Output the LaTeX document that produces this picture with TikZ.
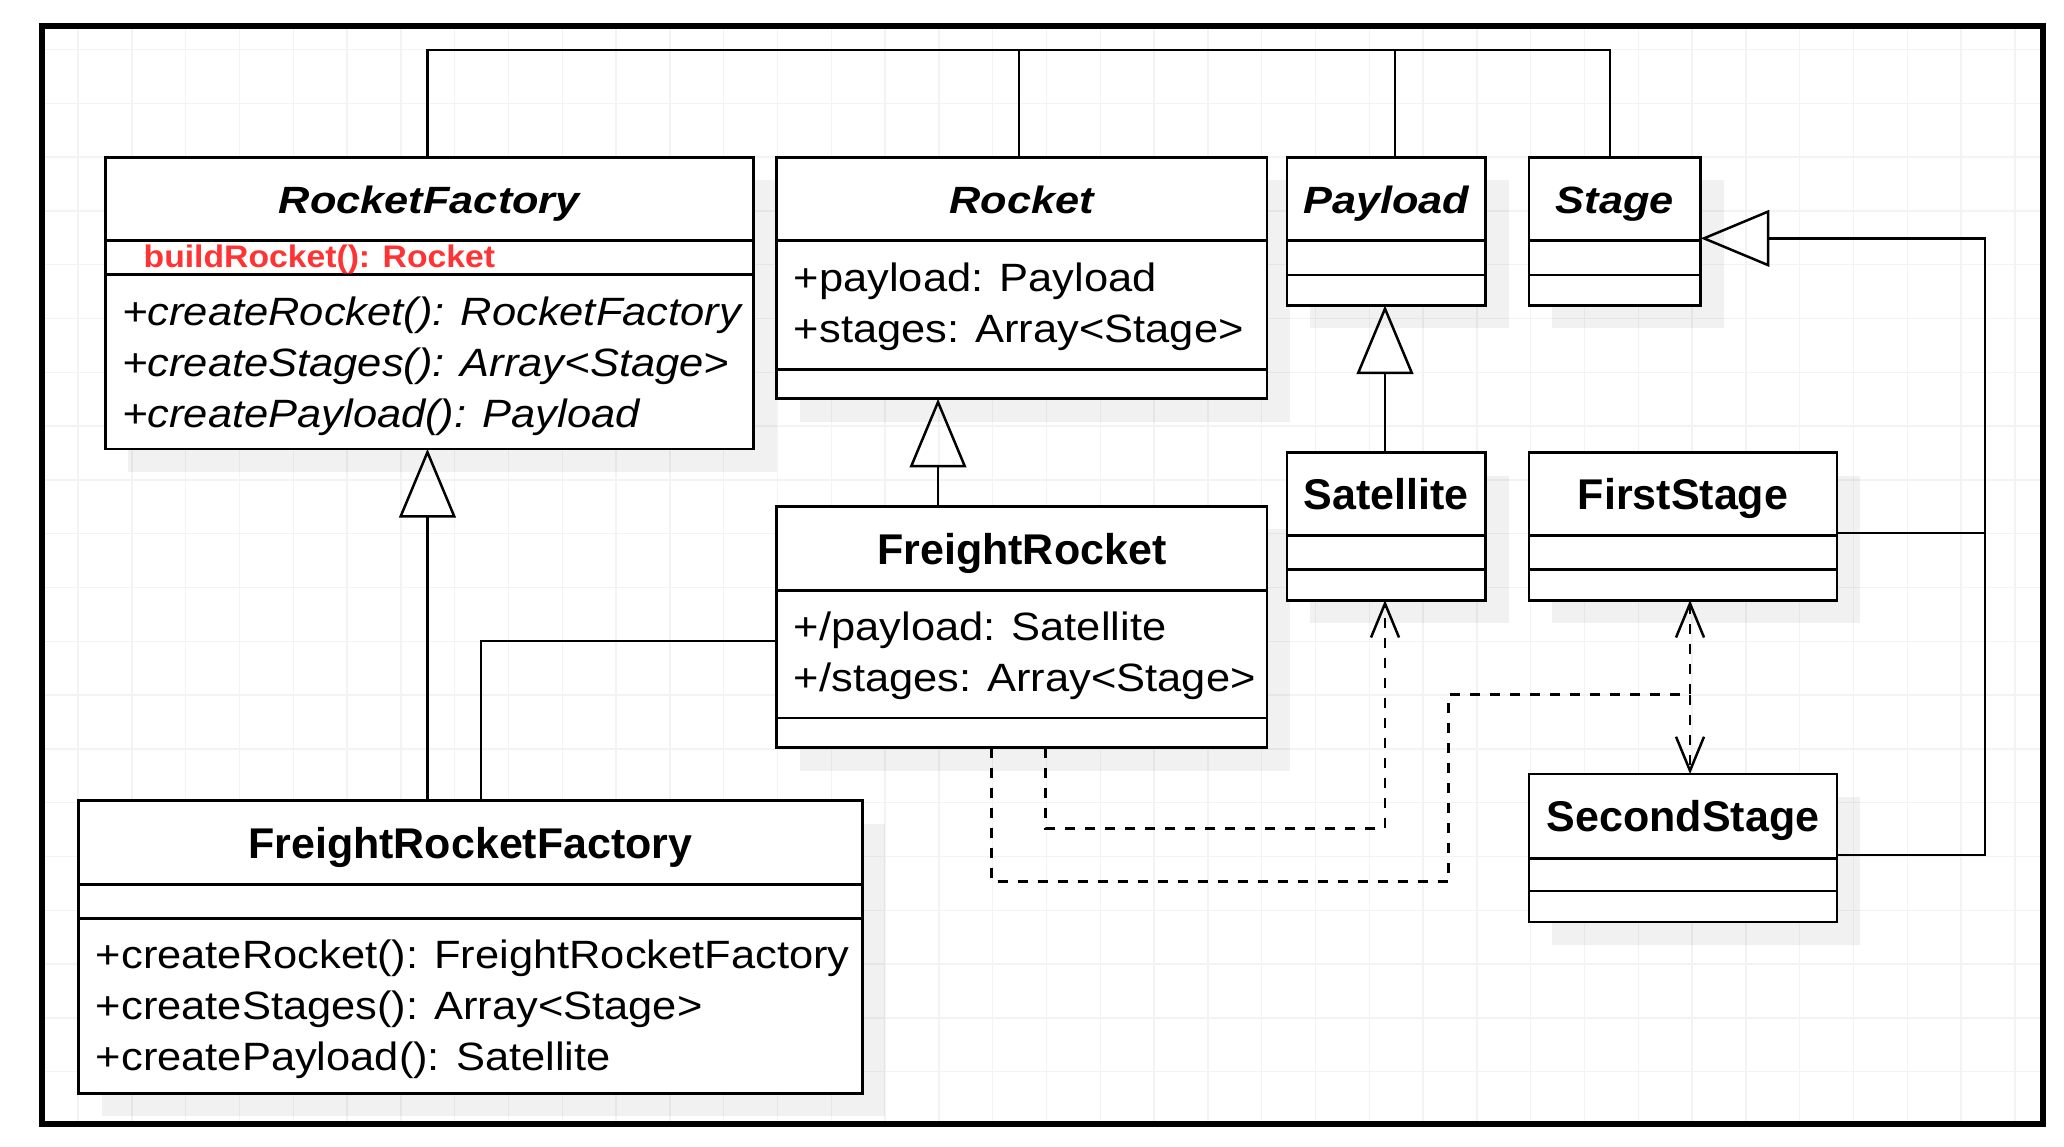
\documentclass[tikz,border=0pt]{standalone}
\usepackage{fontspec}
\setmainfont{Liberation Sans}
\newfontfamily\bodyfont[FakeStretch=1.1]{Liberation Sans}
\newfontfamily\titleitfont[FakeStretch=1.14]{Liberation Sans}
\newfontfamily\redfont[FakeStretch=1.08]{Liberation Sans}
\usetikzlibrary{arrows.meta}
\definecolor{umlred}{HTML}{FF3333}
\definecolor{gridc}{HTML}{F3F3F3}
\newcommand\UMLshadow[4]{\fill[shadowfill] ({#1+23},{#2+23}) rectangle ({#3+23},{#4+23});}
\newcommand\UMLclass[7]{%
  \node[classbox, minimum width={(#4-#2)*0.5pt}, minimum height={(#5-#3)*0.5pt}] (#1) at ({(#2+#4)/2},{(#3+#5)/2}) {};
  \draw[boxline] (#2,#6) -- (#4,#6) (#2,#7) -- (#4,#7);
}
\tikzset{
  gridline/.style={draw=gridc, line width=0.7pt},
  shadowfill/.style={fill=black, opacity=0.055},
  classbox/.style={draw, fill=white, line width=1.35pt, inner sep=0pt, outer sep=0pt, rectangle},
  boxline/.style={line width=1.35pt},
  titleb/.style={font=\fontsize{21.5pt}{25pt}\selectfont\bfseries, anchor=base, inner sep=0pt},
  titleit/.style={font=\titleitfont\fontsize{19pt}{22pt}\selectfont\bfseries\itshape, anchor=base, inner sep=0pt},
  member/.style={font=\bodyfont\fontsize{19.75pt}{25pt}\selectfont, anchor=base west, inner sep=0pt},
  memberit/.style={font=\bodyfont\fontsize{19.75pt}{25pt}\selectfont\itshape, anchor=base west, inner sep=0pt},
  redtext/.style={font=\redfont\fontsize{15.6pt}{18pt}\selectfont\bfseries, text=umlred, anchor=base west, inner sep=0pt},
  conn/.style={draw, line width=1.25pt},
  gen/.style={conn, -{Triangle[open, length=34.3pt, width=28.3pt]}},
  dep/.style={conn, dash pattern=on 5pt off 5pt, -{Straight Barb[length=17pt, width=14pt]}},
  frame/.style={draw, line width=2.9pt}
}
\begin{document}
\begin{tikzpicture}[x=0.5pt, y=-0.5pt]
\useasboundingbox (0,0) rectangle (2064,1146);
\fill[white] (0,0) rectangle (2064,1146);
% grid
\foreach \k in {1,...,37} \draw[gridline] ({24.3+53.8*\k},25.7) -- ({24.3+53.8*\k},1124);
\foreach \k in {0,...,19} \draw[gridline] (41.6,{49.4+53.8*\k}) -- (2043,{49.4+53.8*\k});
% shadows
\UMLshadow{105.3}{157.3}{753.6}{448.9}
\UMLshadow{776.6}{157.3}{1267}{398.8}
\UMLshadow{1287}{157.3}{1485.6}{305.4}
\UMLshadow{1529}{157.3}{1700.7}{305.4}
\UMLshadow{776.6}{506.3}{1267}{747.7}
\UMLshadow{1287}{452.5}{1485.6}{600.2}
\UMLshadow{1529}{452.5}{1837}{600.2}
\UMLshadow{1529}{774}{1837}{922.1}
\UMLshadow{78.6}{800.7}{862.2}{1093.2}
% classes
\UMLclass{rf}{105.3}{157.3}{753.6}{448.9}{240.2}{274.4}
\UMLclass{rocket}{776.6}{157.3}{1267}{398.8}{240.2}{369.2}
\UMLclass{payload}{1287}{157.3}{1485.6}{305.4}{240.6}{275}
\UMLclass{stage}{1529}{157.3}{1700.7}{305.4}{240.6}{275}
\UMLclass{fr}{776.6}{506.3}{1267}{747.7}{590.6}{718}
\UMLclass{sat}{1287}{452.5}{1485.6}{600.2}{535.7}{569.2}
\UMLclass{fs}{1529}{452.5}{1837}{600.2}{535.7}{569.2}
\UMLclass{ss}{1529}{774}{1837}{922.1}{858.2}{891.1}
\UMLclass{frf}{78.6}{800.7}{862.2}{1093.2}{884.2}{918.8}
% titles
\node[titleit] (rfT) at (429.45,213) {RocketFactory};
\node[titleit] (rocketT) at (1021.8,213) {Rocket};
\node[titleit] (payloadT) at (1386.3,213.5) {Payload};
\node[titleit] (stageT) at (1614.85,213.5) {Stage};
\node[titleb] (frT) at (1021.8,564) {FreightRocket};
\node[titleb] (satT) at (1386.3,509.8) {Satellite};
\node[titleb] (fsT) at (1683,509.8) {FirstStage};
\node[titleb] (ssT) at (1683,831.8) {SecondStage};
\node[titleb] (frfT) at (470.4,858) {FreightRocketFactory};
% members
\node[redtext] (rfRed) at (143.3,267.3) {buildRocket(): Rocket};
\node[memberit] (rfM1) at (122,325.5) {+createRocket(): RocketFactory};
\node[memberit] (rfM2) at (122,376.3) {+createStages(): Array<Stage>};
\node[memberit] (rfM3) at (122,427.1) {+createPayload(): Payload};
\node[member] (rkA1) at (793.5,291) {+payload: Payload};
\node[member] (rkA2) at (793.5,342) {+stages: Array<Stage>};
\node[member] (frA1) at (793.5,640.6) {+/payload: Satellite};
\node[member] (frA2) at (793.5,691.4) {+/stages: Array<Stage>};
\node[member] (frfM1) at (95.5,968.6) {+createRocket(): FreightRocketFactory};
\node[member] (frfM2) at (95.5,1019.4) {+createStages(): Array<Stage>};
\node[member] (frfM3) at (95.5,1070.2) {+createPayload(): Satellite};
% connectors: top bus
\coordinate (bus) at (0,50);
\coordinate (rfTop) at ([xshift=-1pt]rf.north);
\coordinate (rfBot) at ([xshift=-1pt]rf.south);
\coordinate (rkTop) at ([xshift=-1.4pt]rocket.north);
\coordinate (plTop) at ([xshift=4.35pt]payload.north);
\coordinate (stTop) at ([xshift=-2.4pt]stage.north);
\draw[conn] (rfTop) -- (rfTop |- bus) -- (stTop |- bus) -- (stTop);
\draw[conn] (rkTop) -- (rkTop |- bus);
\draw[conn] (plTop) -- (plTop |- bus);
% generalizations
\draw[gen] (rfBot |- frf.north) -- (rfBot);
\coordinate (frTop) at ([xshift=-41.9pt]fr.north);
\draw[gen] (frTop) -- (frTop |- rocket.south);
\draw[gen] ([xshift=-0.65pt]sat.north) -- ([xshift=-0.65pt]payload.south);
\coordinate (stTip) at ([yshift=-3.5pt]stage.east);
\coordinate (fsOut) at ([yshift=-3.3pt]fs.east);
\coordinate (ssOut) at ([yshift=-3.5pt]ss.east);
\coordinate (trunk) at (1985,0);
\draw[gen] (ssOut) -| (trunk |- stTip) -- (stTip);
\draw[conn] (fsOut) -- (trunk |- fsOut);
% association FreightRocketFactory - FreightRocket
\coordinate (frfTop) at ([xshift=5.3pt]frf.north);
\coordinate (frIn) at ([yshift=-7pt]fr.west);
\draw[conn] (frfTop) |- (frIn);
% dependencies
\coordinate (d1s) at ([xshift=11.95pt]fr.south);
\coordinate (d1y) at (0,828.3);
\coordinate (satIn) at ([xshift=-0.65pt]sat.south);
\draw[dep] (d1s) -- (d1s |- d1y) -| (satIn);
\coordinate (d2s) at ([xshift=-15.05pt]fr.south);
\coordinate (d2y) at (0,881.7);
\coordinate (d2x) at (1448.7,694.3);
\coordinate (fsIn) at ([xshift=3.5pt]fs.south);
\coordinate (ssIn) at ([xshift=3.5pt]ss.north);
\draw[dep] (d2s) -- (d2s |- d2y) -| (d2x) -- (fsIn |- d2x) -- (fsIn);
\draw[dep] (d2s) -- (d2s |- d2y) -| (d2x) -- (ssIn |- d2x) -- (ssIn);
% frame
\draw[frame] (41.6,25.7) rectangle (2043,1124);
\end{tikzpicture}
\end{document}
